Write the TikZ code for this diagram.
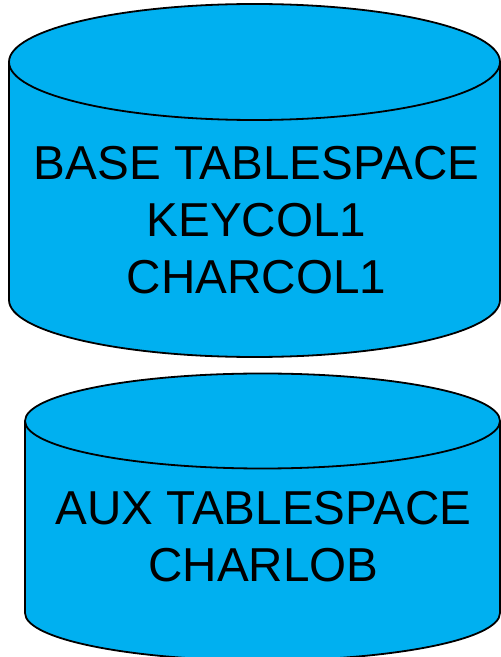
\documentclass[tikz,border=0pt]{standalone}
\usepackage{fontspec}
\setmainfont{Liberation Sans}
\definecolor{diskblue}{RGB}{0,176,240}
\tikzset{
  disk/.style={fill=diskblue, draw=black, line width=1.8pt},
  disklabel/.style={align=center, font=\fontsize{47.6}{57}\selectfont, inner sep=0pt}
}
\begin{document}
\begin{tikzpicture}[x=1pt, y=1pt]
		\useasboundingbox (0,0) rectangle (501,657);
		
		% base tablespace
		\draw[disk] (9,595) -- (9,357) arc[start angle=180, end angle=360, x radius=245.5, y radius=57] -- (500,595);
		\draw[disk] (254.5,595) ellipse [x radius=245.5, y radius=58];
		\node[disklabel] (basetext) at (256.5,437) {BASE TABLESPACE\\KEYCOL1\\CHARCOL1};
		
		% aux tablespace
		\draw[disk] (25,236) -- (25,44) arc[start angle=180, end angle=360, x radius=237.5, y radius=47.5] -- (500,236);
		\draw[disk] (262.5,236) ellipse [x radius=237.5, y radius=47.5];
		\node[disklabel] (auxtext) at (263.5,120) {AUX TABLESPACE\\CHARLOB};
		
		\end{tikzpicture}
\end{document}
